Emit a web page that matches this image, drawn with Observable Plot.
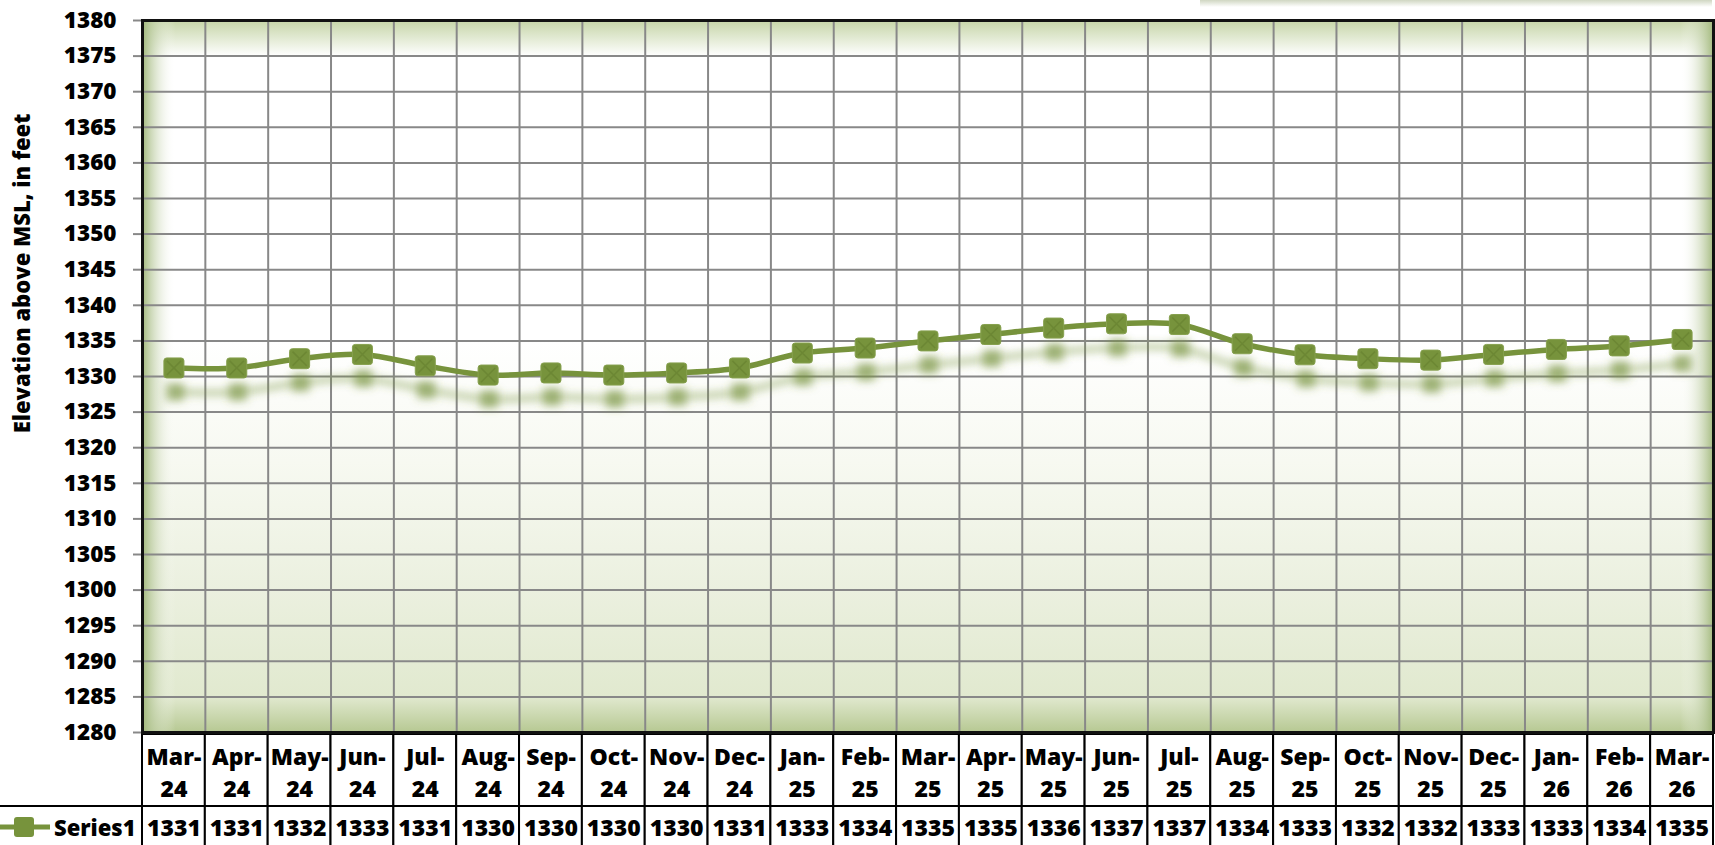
<!DOCTYPE html>
<html>
<head>
<meta charset="utf-8">
<script src="https://cdn.jsdelivr.net/npm/d3@7"></script>
<script src="https://cdn.jsdelivr.net/npm/@observablehq/plot@0.6"></script>
<style>
html, body { margin: 0; padding: 0; overflow: hidden; background: #fff; }
#wrap { position: relative; width: 1715px; height: 845px; overflow: hidden; font-family: "Open Sans", sans-serif; }
#wrap svg { display: block; }
#legend { position: absolute; left: 0; top: 805px; width: 142px; height: 40px; border-top: 2px solid #000; display: flex; align-items: center; font: 800 22px "Open Sans", sans-serif; color: #000; }
#legend svg { display: block; margin-right: 2px; }
#topshadow { position: absolute; left: 1200px; top: 0; width: 512px; height: 7px; background: linear-gradient(to bottom, rgba(150,165,120,0.45), rgba(255,255,255,0)); }
</style>
</head>
<body>
<div id="wrap"></div>
<script>
// ---- data ----
const categories = ["Mar-24","Apr-24","May-24","Jun-24","Jul-24","Aug-24","Sep-24","Oct-24","Nov-24","Dec-24","Jan-25","Feb-25","Mar-25","Apr-25","May-25","Jun-25","Jul-25","Aug-25","Sep-25","Oct-25","Nov-25","Dec-25","Jan-26","Feb-26","Mar-26"];
const elevations = [1331.2,1331.2,1332.5,1333.1,1331.5,1330.2,1330.5,1330.2,1330.5,1331.2,1333.3,1334.0,1335.0,1335.9,1336.8,1337.4,1337.3,1334.6,1333.05,1332.5,1332.3,1333.1,1333.8,1334.3,1335.2];
const tableValues = ["1331","1331","1332","1333","1331","1330","1330","1330","1330","1331","1333","1334","1335","1335","1336","1337","1337","1334","1333","1332","1332","1333","1333","1334","1335"];
const yTicks = d3.range(1280, 1381, 5);
const yDomain = [1280, 1380];
const seriesName = "Series1";
const yTitle = "Elevation above MSL, in feet";

// ---- styling ----
const green = "#77933c";
const gridColor = "#888888";
const W = 1715, ML = 142, MR = 2;
const step = (W - ML - MR) / categories.length;
const data = categories.map((c, i) => ({month: c, value: elevations[i], label: tableValues[i]}));

const roundedSquare = {
  draw(ctx, size) {
    const s = Math.sqrt(size) / 2, r = s * 0.28;
    ctx.moveTo(-s + r, -s);
    ctx.arcTo(s, -s, s, s, r);
    ctx.arcTo(s, s, -s, s, r);
    ctx.arcTo(-s, s, -s, -s, r);
    ctx.arcTo(-s, -s, s, -s, r);
    ctx.closePath();
  }
};

const defsMark = () => {
  const d = document.createElementNS("http://www.w3.org/2000/svg", "defs");
  d.innerHTML = `
    <linearGradient id="bgV" x1="0" y1="0" x2="0" y2="1">
      <stop offset="0" stop-color="#c6d5a8"/>
      <stop offset="0.05" stop-color="#ffffff"/>
      <stop offset="0.45" stop-color="#ffffff"/>
      <stop offset="0.62" stop-color="#f7f9f1"/>
      <stop offset="0.8" stop-color="#ebf0df"/>
      <stop offset="0.95" stop-color="#e1e9cf"/>
      <stop offset="1" stop-color="#b6c892"/>
    </linearGradient>
    <linearGradient id="bgH" x1="0" y1="0" x2="1" y2="0">
      <stop offset="0" stop-color="#9fb678" stop-opacity="0.95"/>
      <stop offset="0.021" stop-color="#ffffff" stop-opacity="0"/>
      <stop offset="0.979" stop-color="#ffffff" stop-opacity="0"/>
      <stop offset="1" stop-color="#9fb678" stop-opacity="0.95"/>
    </linearGradient>
    <filter id="shadowBlur" x="-10%" y="-50%" width="120%" height="200%">
      <feGaussianBlur stdDeviation="4"/>
    </filter>`;
  return d;
};

const chart = Plot.plot({
  width: W, height: 734,
  marginLeft: ML, marginRight: MR, marginTop: 20, marginBottom: 2,
  style: {fontFamily: "Open Sans", fontWeight: "800", fontSize: "22px", color: "#000", background: "transparent", overflow: "visible"},
  x: {type: "point", domain: categories, padding: 0.5, round: false, axis: null},
  y: {domain: yDomain, ticks: yTicks, label: null, axis: null},
  marks: [
    defsMark,
    Plot.frame({fill: "url(#bgV)"}),
    Plot.frame({fill: "url(#bgH)"}),
    Plot.gridY(yTicks, {stroke: gridColor, strokeOpacity: 1, strokeWidth: 2}),
    Plot.ruleX(categories.slice(1), {x: d => d, dx: -step / 2, stroke: gridColor, strokeWidth: 2}),
    Plot.axisY(yTicks, {tickSize: 9, tickPadding: 17, tickFormat: d => String(d), stroke: gridColor, strokeWidth: 2, fill: "#000", fontSize: 22.5, fontWeight: 800, label: null}),
    Plot.text([yTitle], {text: d => d, frameAnchor: "left", textAnchor: "middle", rotate: -90, dx: -120, dy: -103, fontSize: 22, fontWeight: 800, fill: "#000"}),
    // soft shadow copy
    Plot.line(data, {x: "month", y: "value", curve: "catmull-rom", stroke: green, strokeWidth: 6, strokeOpacity: 0.5, dx: 1, dy: 24}),
    Plot.dot(data, {x: "month", y: "value", symbol: "square", r: 10, fill: green, fillOpacity: 0.6, stroke: "none", dx: 1, dy: 24}),
    // main series
    Plot.line(data, {x: "month", y: "value", curve: "catmull-rom", stroke: green, strokeWidth: 5.5}),
    Plot.dot(data, {x: "month", y: "value", symbol: roundedSquare, r: 11.3, fill: green, stroke: "#86a04e", strokeWidth: 1}),
    Plot.dot(data, {x: "month", y: "value", symbol: "times", r: 6.5, stroke: "#5c7629", strokeWidth: 1.5, strokeOpacity: 0.4}),
    Plot.frame({stroke: "#111", strokeWidth: 3})
  ]
});

// blur the shadow marks
{
  const groups = chart.querySelectorAll('g[aria-label="line"], g[aria-label="dot"]');
  if (groups.length >= 2) {
    groups[0].setAttribute("filter", "url(#shadowBlur)");
    groups[1].setAttribute("filter", "url(#shadowBlur)");
  }
}

const tableStyle = {fontFamily: "Open Sans", fontWeight: "800", fontSize: "23px", color: "#000", background: "transparent"};

const labelRow = Plot.plot({
  width: W, height: 72, marginLeft: ML, marginRight: MR, marginTop: 0, marginBottom: 0,
  style: tableStyle,
  x: {type: "band", domain: categories, padding: 0, round: false, axis: null},
  marks: [
    Plot.cell(categories, {x: d => d, fill: "white", stroke: "#000", strokeWidth: 2, inset: 0}),
    Plot.text(categories, {x: d => d, text: d => d.replace("-", "-\n"), lineHeight: 1.4, fill: "#000", fontSize: 23, fontWeight: 800})
  ]
});

const valueRow = Plot.plot({
  width: W, height: 44, marginLeft: ML, marginRight: MR, marginTop: 0, marginBottom: 0,
  style: tableStyle,
  x: {type: "band", domain: categories, padding: 0, round: false, axis: null},
  marks: [
    Plot.cell(data, {x: "month", fill: "white", stroke: "#000", strokeWidth: 2, inset: 0}),
    Plot.text(data, {x: "month", text: "label", fill: "#000", fontSize: 23, fontWeight: 800})
  ]
});

const wrap = document.getElementById("wrap");
wrap.append(chart, labelRow, valueRow);

const legend = document.createElement("div");
legend.id = "legend";
legend.innerHTML = `<svg width="52" height="24"><line x1="0" y1="12" x2="50" y2="12" stroke="${green}" stroke-width="5"/><rect x="14" y="2" width="20" height="20" rx="3" fill="${green}"/></svg><span>${seriesName}</span>`;
wrap.append(legend);

const ts = document.createElement("div");
ts.id = "topshadow";
wrap.append(ts);
</script>
</body>
</html>
